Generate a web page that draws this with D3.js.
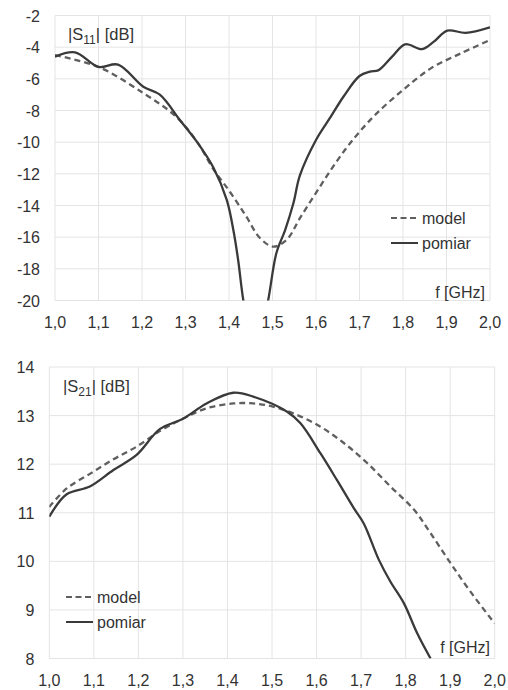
<!DOCTYPE html>
<html>
<head>
<meta charset="utf-8">
<script src="https://cdn.jsdelivr.net/npm/d3@7"></script>
<style>
  body { margin: 0; background: #fff; }
  text { font-family: "Liberation Sans", Arial, sans-serif; fill: #333; }
</style>
</head>
<body>
<script>
// x ticks shared by both panels
var freqTicks = [1.0, 1.1, 1.2, 1.3, 1.4, 1.5, 1.6, 1.7, 1.8, 1.9, 2.0];

// |S11| model (dashed)
var s11ModelF = [1.0, 1.1, 1.203, 1.279, 1.327, 1.364, 1.402, 1.44, 1.471, 1.502, 1.533, 1.563, 1.6, 1.634, 1.669, 1.7, 1.74, 1.8, 1.864, 1.933, 2.0];
var s11ModelV = [-4.5, -5.25, -6.9, -8.4, -10.0, -11.7, -13.13, -14.71, -16.05, -16.6, -16.15, -14.8, -13.2, -11.76, -10.4, -9.35, -8.17, -6.7, -5.34, -4.39, -3.55];

// |S11| pomiar (solid)
var s11MeasF = [1.0, 1.046, 1.1, 1.145, 1.203, 1.241, 1.287, 1.326, 1.364, 1.395, 1.41, 1.421, 1.433, 1.46, 1.49, 1.509, 1.529, 1.548, 1.563, 1.6, 1.634, 1.663, 1.7, 1.724, 1.744, 1.775, 1.805, 1.844, 1.871, 1.902, 1.944, 2.0];
var s11MeasV = [-4.6, -4.33, -5.25, -5.1, -6.5, -7.0, -8.6, -9.97, -11.6, -13.66, -15.55, -17.44, -20.0, -24.0, -20.0, -17.0, -15.55, -13.86, -12.1, -9.86, -8.39, -7.13, -5.82, -5.55, -5.45, -4.6, -3.82, -4.12, -3.65, -2.95, -3.1, -2.75];

// |S21| model (dashed)
var s21ModelF = [1.0, 1.039, 1.091, 1.144, 1.196, 1.248, 1.301, 1.353, 1.413, 1.458, 1.504, 1.557, 1.609, 1.662, 1.714, 1.766, 1.819, 1.856, 1.901, 1.946, 2.0];
var s21ModelV = [11.12, 11.5, 11.8, 12.1, 12.36, 12.68, 12.94, 13.15, 13.25, 13.25, 13.18, 13.01, 12.77, 12.43, 12.02, 11.54, 11.06, 10.58, 9.96, 9.37, 8.72];

// |S21| pomiar (solid)
var s21MeasF = [1.0, 1.039, 1.091, 1.144, 1.196, 1.248, 1.301, 1.353, 1.413, 1.458, 1.534, 1.564, 1.609, 1.646, 1.684, 1.706, 1.74, 1.766, 1.796, 1.826, 1.856];
var s21MeasV = [10.92, 11.38, 11.54, 11.88, 12.19, 12.72, 12.94, 13.25, 13.47, 13.39, 13.08, 12.84, 12.22, 11.67, 11.09, 10.78, 10.03, 9.58, 9.14, 8.52, 8.0];

var s11Ticks = [-2, -4, -6, -8, -10, -12, -14, -16, -18, -20];
var s21Ticks = [14, 13, 12, 11, 10, 9, 8];

var svg = d3.select("body").append("svg")
    .attr("width", 508)
    .attr("height", 690);

function zip(f, v) {
  return f.map(function(d, i) { return {f: d, v: v[i]}; });
}

var fmt = function(d) { return d.toFixed(1).replace(".", ","); };

function panel(opt) {
  var x = d3.scaleLinear().domain([1, 2]).range([opt.left, opt.right]);
  var y = d3.scaleLinear().domain(opt.ydomain).range([opt.bottom, opt.top]);
  var g = svg.append("g");

  // grid
  g.selectAll(".vg").data(freqTicks).enter().append("line")
      .attr("x1", function(d) { return x(d); })
      .attr("x2", function(d) { return x(d); })
      .attr("y1", opt.top).attr("y2", opt.bottom)
      .attr("stroke", "#e4e4e4").attr("stroke-width", 1);
  g.selectAll(".hg").data(opt.yticks).enter().append("line")
      .attr("x1", opt.left).attr("x2", opt.right)
      .attr("y1", function(d) { return y(d); })
      .attr("y2", function(d) { return y(d); })
      .attr("stroke", "#e4e4e4").attr("stroke-width", 1);

  // tick labels
  g.selectAll(".yl").data(opt.yticks).enter().append("text")
      .attr("x", opt.left - 15)
      .attr("y", function(d) { return y(d); })
      .attr("dy", "0.38em")
      .attr("text-anchor", "end")
      .style("font-size", "16px")
      .text(function(d) { return d; });
  g.selectAll(".xl").data(freqTicks).enter().append("text")
      .attr("x", function(d) { return x(d); })
      .attr("y", opt.bottom + 27)
      .attr("text-anchor", "middle")
      .style("font-size", "16px")
      .text(fmt);

  var clipId = "clip" + opt.id;
  svg.append("clipPath").attr("id", clipId).append("rect")
      .attr("x", opt.left).attr("y", opt.top)
      .attr("width", opt.right - opt.left).attr("height", opt.bottom - opt.top);

  var line = d3.line()
      .x(function(d) { return x(d.f); })
      .y(function(d) { return y(d.v); })
      .curve(d3.curveCatmullRom.alpha(0.5));

  g.append("path").datum(opt.model)
      .attr("d", line)
      .attr("fill", "none").attr("stroke", "#5f5f5f")
      .attr("stroke-width", 2.3).attr("stroke-dasharray", "6,4")
      .attr("clip-path", "url(#" + clipId + ")");
  g.append("path").datum(opt.meas)
      .attr("d", line)
      .attr("fill", "none").attr("stroke", "#3a3a3a")
      .attr("stroke-width", 2.3)
      .attr("clip-path", "url(#" + clipId + ")");

  // axis titles
  var t = g.append("text").attr("x", opt.titleX).attr("y", opt.titleY)
      .style("font-size", "16.5px");
  t.append("tspan").text("|S");
  t.append("tspan").attr("dy", 4).style("font-size", "12px").text(opt.sub);
  t.append("tspan").attr("dy", -4).text("| [dB]");

  g.append("text").attr("x", opt.fx).attr("y", opt.fy)
      .attr("text-anchor", "end").style("font-size", "16px")
      .text("f [GHz]");

  // legend
  var lg = g.append("g");
  lg.append("line").attr("x1", opt.lx).attr("x2", opt.lx + 27)
      .attr("y1", opt.ly).attr("y2", opt.ly)
      .attr("stroke", "#5f5f5f").attr("stroke-width", 2).attr("stroke-dasharray", "6,3.5");
  lg.append("text").attr("x", opt.lx + 31).attr("y", opt.ly).attr("dy", "0.36em")
      .style("font-size", "16px").text("model");
  lg.append("line").attr("x1", opt.lx).attr("x2", opt.lx + 27)
      .attr("y1", opt.ly + 25).attr("y2", opt.ly + 25)
      .attr("stroke", "#3a3a3a").attr("stroke-width", 2);
  lg.append("text").attr("x", opt.lx + 31).attr("y", opt.ly + 25).attr("dy", "0.36em")
      .style("font-size", "16px").text("pomiar");
}

panel({
  id: 1, left: 55, right: 490, top: 15.5, bottom: 300.5,
  ydomain: [-20, -2], yticks: s11Ticks,
  model: zip(s11ModelF, s11ModelV), meas: zip(s11MeasF, s11MeasV),
  sub: "11", titleX: 68, titleY: 40,
  fx: 485, fy: 298, lx: 391, ly: 218
});

panel({
  id: 2, left: 49.3, right: 494.7, top: 367, bottom: 658.5,
  ydomain: [8, 14], yticks: s21Ticks,
  model: zip(s21ModelF, s21ModelV), meas: zip(s21MeasF, s21MeasV),
  sub: "21", titleX: 63, titleY: 392,
  fx: 490, fy: 653, lx: 66, ly: 597
});
</script>
</body>
</html>
